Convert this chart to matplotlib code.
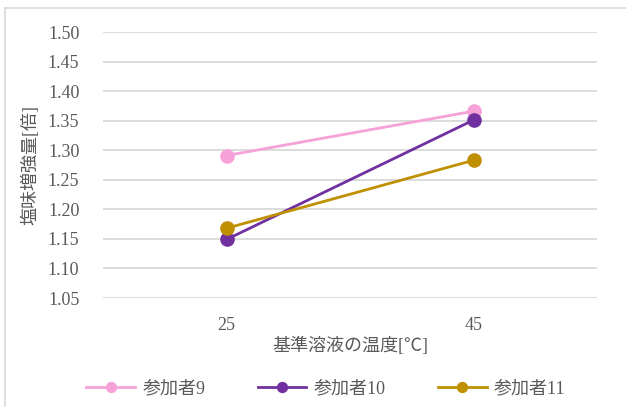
import matplotlib.pyplot as plt
from matplotlib.lines import Line2D

plt.rcParams['font.family'] = ['Liberation Serif', 'Noto Sans CJK JP']

# data
temps = ['25', '45']
participants = ['参加者9', '参加者10', '参加者11']
salt_gain = {
    '参加者9': [1.291, 1.366],
    '参加者10': [1.149, 1.351],
    '参加者11': [1.168, 1.283],
}
colors = ['#F7A1D9', '#7030A0', '#BF9000']
yticks = [1.05, 1.10, 1.15, 1.20, 1.25, 1.30, 1.35, 1.40, 1.45, 1.50]

text_color = '#595959'
fs = 13

fig = plt.figure(figsize=(6.26, 4.07), dpi=100)
ax = fig.add_axes([103 / 626, 1 - 298 / 407, 494 / 626, 266 / 407])

x = range(len(temps))
for name, c in zip(participants, colors):
    ax.plot(x, salt_gain[name], color=c, lw=2.0, marker='o', markersize=9.5,
            label=name, zorder=3)

ax.set_xlim(-0.5, 1.5)
ax.set_ylim(1.05, 1.50)
ax.set_yticks(yticks)
ax.set_yticklabels([f'{v:.2f}' for v in yticks])
ax.set_xticks(list(x))
ax.set_xticklabels(temps)
ax.grid(axis='y', color='#D9D9D9', lw=1.3)
ax.set_axisbelow(True)
for s in ax.spines.values():
    s.set_visible(False)
ax.tick_params(axis='both', length=0, labelsize=fs, labelcolor=text_color)
ax.tick_params(axis='y', pad=17)
ax.tick_params(axis='x', pad=14)

ax.set_xlabel('基準溶液の温度[℃]', fontsize=fs, color=text_color, labelpad=2)
fig.text(30 / 626, 1 - 165 / 407, '塩味増強量[倍]', rotation=90, ha='center',
         va='center', fontsize=fs, color=text_color)

fig.legend(loc='center', bbox_to_anchor=(326 / 626, 1 - 389 / 407), ncol=3,
           frameon=False, fontsize=fs, labelcolor=text_color, handlelength=2.7,
           columnspacing=2.9, handletextpad=0.4, markerscale=0.75)

# chart area border
fig.add_artist(Line2D([5 / 626, 5 / 626], [0, 1 - 8 / 407], color='#D9D9D9', lw=1.2))
fig.add_artist(Line2D([5 / 626, 1], [1 - 8 / 407, 1 - 8 / 407], color='#D9D9D9', lw=1.2))

fig.savefig('out.png', dpi=100, facecolor='white')
